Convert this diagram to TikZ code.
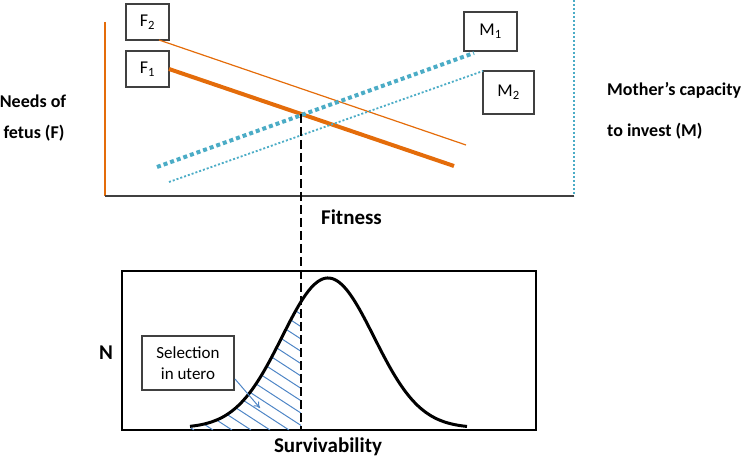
\documentclass[tikz,border=0pt]{standalone}
\usepackage{fontspec}
\setmainfont{Carlito}
\usetikzlibrary{arrows.meta}
\definecolor{fetusorange}{HTML}{E46C0A}
\definecolor{motheraqua}{HTML}{4BACC6}
\definecolor{hatchblue}{HTML}{4F86C6}
\definecolor{axisgray}{HTML}{404040}
\tikzset{
  labelbox/.style={draw=axisgray, line width=1.2pt, fill=white, inner sep=0pt, font=\fontsize{18}{21}\selectfont},
  sidetext/.style={font=\fontsize{18}{21}\selectfont\bfseries, inner sep=0pt},
  axistext/.style={font=\fontsize{21}{25}\selectfont\bfseries, inner sep=0pt},
  fthick/.style={draw=fetusorange, line width=4pt},
  fthin/.style={draw=fetusorange, line width=1.2pt},
  mthick/.style={draw=motheraqua, line width=4pt, dash pattern=on 4pt off 3pt},
  mthin/.style={draw=motheraqua, line width=1.8pt, dash pattern=on 2pt off 2pt},
  hatchline/.style={draw=hatchblue, line width=1pt},
}
\begin{document}
\begin{tikzpicture}[x=1pt,y=-1pt]
\useasboundingbox (0,0) rectangle (745,457);

% ---------- top chart ----------
\coordinate (yaxtop) at (105,22);
\coordinate (origin) at (105,196);
\coordinate (xaxend) at (574,196);
\coordinate (rtop) at (574,0);
\draw[fetusorange, line width=2.5pt] (yaxtop) -- (origin);
\draw[motheraqua, line width=2pt, dash pattern=on 2pt off 2pt] (rtop) -- (xaxend);
\draw[axisgray, line width=2pt] (origin) -- (xaxend);

% label boxes
\node[labelbox, minimum width=43pt, minimum height=36pt] (F2) at (147.5,22) {F\textsubscript{2}};
\node[labelbox, minimum width=43pt, minimum height=36pt] (F1) at (147.5,69) {F\textsubscript{1}};
\node[labelbox, minimum width=53pt, minimum height=39pt] (M1) at (490.5,31.5) {M\textsubscript{1}};
\node[labelbox, minimum width=51pt, minimum height=43pt] (M2) at (508.5,92.5) {M\textsubscript{2}};

% curves
\coordinate (f2s) at (159,40);
\coordinate (f2e) at (466,145);
\coordinate (f1s) at (169,69);
\coordinate (f1e) at (454,166);
\coordinate (m1s) at (157,167);
\coordinate (m1e) at (474,53);
\coordinate (m2s) at (169,182);
\coordinate (m2e) at (483,71);
\draw[fthin] (f2s) -- (f2e);
\draw[fthick] (f1s) -- (f1e);
\draw[mthick] (m1s) -- (m1e);
\draw[mthin] (m2s) -- (m2e);

% side texts
\node[sidetext] (needs) at (33,101) {Needs of};
\node[sidetext] (fetus) at (34,133) {fetus (F)};
\node[sidetext, anchor=west] (mother) at (607,90) {Mother’s capacity};
\node[sidetext, anchor=west] (invest) at (607,131) {to invest (M)};
\node[axistext] (fitness) at (351.5,217) {Fitness};

% ---------- bottom chart ----------
\node[draw=black, line width=1.5pt, minimum width=414pt, minimum height=159pt, inner sep=0pt] (box) at (329,350.5) {};

% hatching
\begin{scope}
  \clip (190,430) -- plot[domain=190:301, samples=60] (\x, {428 - 150*exp(-0.5*((\x-328)/46)^2)}) -- (301,430) -- cycle;
  \foreach \c in {175,194,...,540} {
    \draw[hatchline] (\c,430) -- ({\c-360},{430-234});
  }
\end{scope}

% gaussian
\draw[black, line width=3pt] plot[domain=190:467, samples=120] (\x, {428 - 150*exp(-0.5*((\x-328)/46)^2)});

% dashed connector
\coordinate (cross) at (301,114);
\coordinate (dashend) at (301,430);
\draw[black, line width=1.5pt, dash pattern=on 9pt off 4pt] (cross) -- (dashend);

% selection box and arrow
\node[draw=axisgray, line width=1.2pt, fill=white, minimum width=92pt, minimum height=54pt, inner sep=0pt, align=center, font=\fontsize{17}{21}\selectfont] (sel) at (188,363) {Selection\\in utero};
\coordinate (arrs) at (235,379);
\coordinate (arre) at (260,408);
\draw[hatchblue, line width=1pt, -{To[length=6pt, width=7pt]}] (arrs) -- (arre);

\node[axistext] (N) at (106,353) {N};
\node[axistext] (surv) at (328,447) {Survivability};
\end{tikzpicture}
\end{document}
